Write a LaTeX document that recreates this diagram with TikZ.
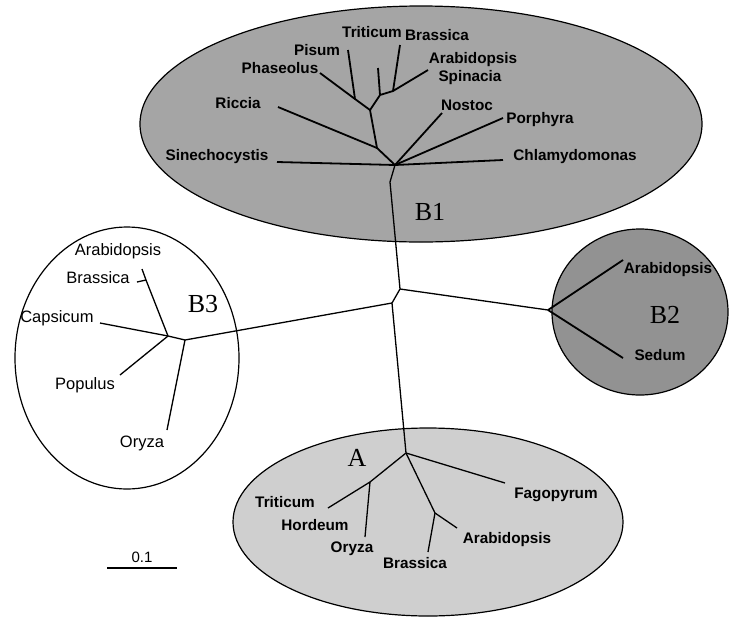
\documentclass[tikz,border=0pt]{standalone}
\usepackage{fontspec}
\setmainfont{Liberation Sans}
\newfontfamily\bigserif{Liberation Serif}
\definecolor{fillBone}{HTML}{A5A5A5}
\definecolor{fillBtwo}{HTML}{929292}
\definecolor{fillA}{HTML}{CFCFCF}
\begin{document}
\begin{tikzpicture}[x=1pt,y=-1pt,
  br/.style={line width=1.3pt},
  brb/.style={line width=1.8pt},
  grp/.style={draw=black,line width=1.2pt},
  lab/.style={inner sep=0pt,font=\fontsize{15.3}{17}\selectfont\bfseries},
  labw/.style={inner sep=0pt,font=\fontsize{16.5}{18}\selectfont},
  big/.style={inner sep=0pt,font=\fontsize{26}{28}\selectfont\bigserif}]
\useasboundingbox (0,0) rectangle (729,619);
% group ellipses
\fill[fillBone,grp] (421,124) ellipse [x radius=281pt, y radius=118pt];
\fill[fillBtwo,grp] (640,312) ellipse [x radius=88pt, y radius=83pt];
\draw[grp,fill=white] (127,358) ellipse [x radius=112pt, y radius=131pt];
\fill[fillA,grp] (428,522) ellipse [x radius=195pt, y radius=94pt];
% backbone coordinates
\coordinate (h1) at (395,165);
\coordinate (k1) at (390,182);
\coordinate (c1) at (400,289);
\coordinate (c2) at (392,303);
\coordinate (b2hub) at (548,310);
\coordinate (b3r) at (185,340);
\coordinate (ahub) at (406,453);
\draw[br] (h1) -- (k1) -- (c1) -- (c2) -- (ahub);
\draw[br] (c1) -- (b2hub);
\draw[br] (c2) -- (b3r);
% B1 clade
\coordinate (n0) at (377,148);
\coordinate (n1) at (370,110);
\coordinate (n2) at (380,95);
\coordinate (n3) at (393,91);
\coordinate (jP) at (355,99);
\coordinate (tSin) at (277,162);
\coordinate (tRic) at (278,107);
\coordinate (tPha) at (320,73);
\coordinate (tPis) at (348,50);
\coordinate (tTri) at (378,68);
\coordinate (tBra) at (400,45);
\coordinate (tAra) at (428,70);
\coordinate (tNos) at (442,113);
\coordinate (tPor) at (503,118);
\coordinate (tChl) at (503,160);
\draw[brb] (tSin) -- (h1);
\draw[brb] (h1) -- (n0) -- (n1) -- (n2) -- (n3) -- (tAra);
\draw[brb] (tRic) -- (n0);
\draw[brb] (n1) -- (jP) -- (tPha);
\draw[brb] (jP) -- (tPis);
\draw[brb] (n2) -- (tTri);
\draw[brb] (n3) -- (tBra);
\draw[brb] (h1) -- (tNos);
\draw[brb] (h1) -- (tPor);
\draw[brb] (h1) -- (tChl);
\node[lab] (lTri) at (372,32) {Triticum};
\node[lab] (lBra) at (437,35) {Brassica};
\node[lab] (lPis) at (317,50) {Pisum};
\node[lab] (lPha) at (280,68) {Phaseolus};
\node[lab] (lAra) at (473,60) {Arabidopsis};
\node[lab] (lSpi) at (470,78) {Spinacia};
\node[lab] (lRic) at (238,103) {Riccia};
\node[lab] (lNos) at (467,105) {Nostoc};
\node[lab] (lPor) at (540,120) {Porphyra};
\node[lab] (lChl) at (575,157) {Chlamydomonas};
\node[lab] (lSin) at (217,157) {Sinechocystis};
\node[big] (gB1) at (430,212) {B1};
% B2 clade
\coordinate (tA2) at (623,260);
\coordinate (tS2) at (623,358);
\draw[brb] (b2hub) -- (tA2);
\draw[brb] (b2hub) -- (tS2);
\node[lab] (lA2) at (668,270) {Arabidopsis};
\node[lab] (lS2) at (660,355) {Sedum};
\node[big] (gB2) at (665,315) {B2};
% B3 clade
\coordinate (b3l) at (168,336);
\coordinate (b3ab) at (146,280);
\coordinate (tA3) at (142,269);
\coordinate (tB3) at (137,282);
\coordinate (tCap) at (100,323);
\coordinate (tPop) at (120,375);
\coordinate (tOry3) at (167,430);
\draw[br] (b3r) -- (b3l) -- (b3ab) -- (tA3);
\draw[br] (b3ab) -- (tB3);
\draw[br] (b3l) -- (tCap);
\draw[br] (b3l) -- (tPop);
\draw[br] (b3r) -- (tOry3);
\node[labw] (lA3) at (118,251) {Arabidopsis};
\node[labw] (lB3) at (98,278) {Brassica};
\node[labw] (lC3) at (57,318) {Capsicum};
\node[labw] (lP3) at (85,385) {Populus};
\node[labw] (lO3) at (142,443) {Oryza};
\node[big] (gB3) at (203,304) {B3};
% A clade
\coordinate (an1) at (370,482);
\coordinate (an2) at (435,513);
\coordinate (tTriA) at (328,508);
\coordinate (tOryA) at (365,537);
\coordinate (tFag) at (505,483);
\coordinate (tAraA) at (457,528);
\coordinate (tBraA) at (428,552);
\draw[br] (ahub) -- (an1) -- (tTriA);
\draw[br] (an1) -- (tOryA);
\draw[br] (ahub) -- (tFag);
\draw[br] (ahub) -- (an2) -- (tAraA);
\draw[br] (an2) -- (tBraA);
\node[lab] (lTriA) at (285,502) {Triticum};
\node[lab] (lHor) at (315,525) {Hordeum};
\node[lab] (lOryA) at (352,549) {Oryza};
\node[lab] (lBraA) at (415,563) {Brassica};
\node[lab] (lAraA) at (507,540) {Arabidopsis};
\node[lab] (lFag) at (556,495) {Fagopyrum};
\node[big] (gA) at (357,458) {A};
% scale bar
\coordinate (s1) at (107,568);
\coordinate (s2) at (177,568);
\draw[line width=1.4pt] (s1) -- (s2);
\node[inner sep=0pt,font=\fontsize{15}{17}\selectfont] (lScale) at (142,557) {0.1};
\end{tikzpicture}
\end{document}
